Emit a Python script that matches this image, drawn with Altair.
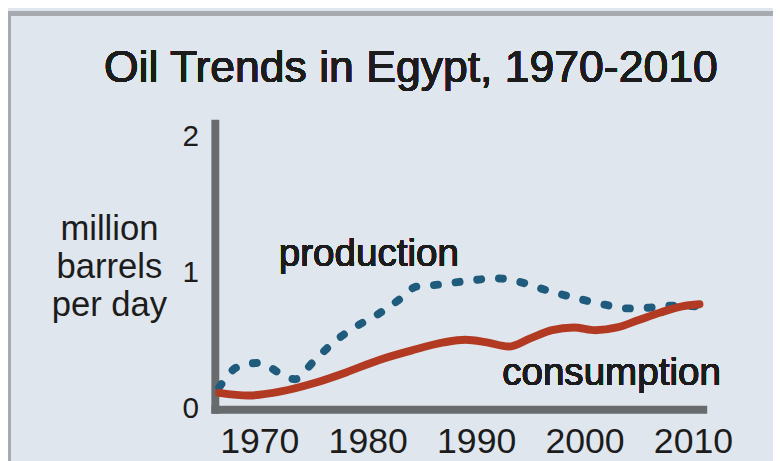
import altair as alt
import pandas as pd

# --- data ---
prod_years = [1966.3, 1968, 1970, 1972, 1973.3, 1975, 1977, 1979, 1981, 1983, 1984.5,
              1986, 1988, 1990, 1992, 1994, 1996, 1998, 2000, 2002, 2004, 2006, 2008, 2010.6]
prod_vals = [0.16, 0.31, 0.34, 0.26, 0.22, 0.35, 0.50, 0.61, 0.70, 0.81, 0.90,
             0.91, 0.93, 0.95, 0.96, 0.935, 0.885, 0.84, 0.80, 0.765, 0.74, 0.745, 0.76, 0.755]

cons_years = [1966.3, 1969, 1972, 1975, 1978, 1981, 1984, 1987, 1989, 1991, 1993,
              1995, 1997, 1999, 2001, 2003, 2005, 2007, 2009, 2010.6]
cons_vals = [0.12, 0.10, 0.13, 0.19, 0.27, 0.36, 0.43, 0.49, 0.51, 0.49, 0.46,
             0.52, 0.58, 0.60, 0.58, 0.60, 0.655, 0.71, 0.755, 0.77]

x_ticks = [1970, 1980, 1990, 2000, 2010]
y_ticks = [0, 1, 2]
y_tick_labels = ["0", "1", "2"]

prod = pd.DataFrame({"year": prod_years, "value": prod_vals})
cons = pd.DataFrame({"year": cons_years, "value": cons_vals})
yt = pd.DataFrame({"value": y_ticks, "label": y_tick_labels})

FONT = "Liberation Sans"
TXT = "#1c1c1c"
AX = "#686b6e"

xs = alt.Scale(domain=[1965.9, 2010.9], nice=False, zero=False)
ys = alt.Scale(domain=[0, 2.1], nice=False)

xaxis = alt.Axis(values=x_ticks, format="d", title=None, grid=False, ticks=False,
                 domainColor=AX, domainWidth=8, domainCap="square",
                 labelFont=FONT, labelFontSize=36, labelColor=TXT, labelPadding=16,
                 labelFlush=False, labelOverlap=False)
yaxis = alt.Axis(values=y_ticks, labels=False, grid=False, ticks=False,
                 domainColor=AX, domainWidth=8, domainCap="square",
                 title=["million", "barrels", "per day"], titleAngle=0,
                 titleAlign="center", titleBaseline="alphabetic",
                 titleFont=FONT, titleFontSize=35, titleFontWeight="normal",
                 titleColor=TXT, titleX=-107, titleY=118, titleLineHeight=38)

base_x = alt.X("year:Q", scale=xs, axis=xaxis)
base_y = alt.Y("value:Q", scale=ys, axis=yaxis)

prod_line = alt.Chart(prod).mark_line(
    color="#1e5b7c", strokeWidth=8, strokeDash=[4, 18], strokeCap="round",
    interpolate="monotone"
).encode(x=base_x, y=base_y)

cons_line = alt.Chart(cons).mark_line(
    color="#b23a22", strokeWidth=8, strokeCap="round", interpolate="monotone"
).encode(x="year:Q", y="value:Q")

ylabels = alt.Chart(yt).mark_text(
    font=FONT, fontSize=30, color=TXT, align="right", baseline="middle"
).encode(x=alt.value(-16), y=alt.Y("value:Q"), text="label:N")

prod_label = alt.Chart(prod).mark_text(
    text="production", font=FONT, fontSize=39, color=TXT, align="left",
    baseline="alphabetic"
).encode(x=alt.datum(1971.8), y=alt.datum(1.054))

cons_label = alt.Chart(prod).mark_text(
    text="consumption", font=FONT, fontSize=39, color=TXT, align="left",
    baseline="alphabetic"
).encode(x=alt.datum(1992.4), y=alt.datum(0.174))

title_text = alt.Chart(prod).mark_text(
    text="Oil Trends in Egypt, 1970-2010", font=FONT, fontSize=45, color=TXT,
    align="left", baseline="alphabetic"
).encode(x=alt.value(-112), y=alt.value(-42))

top_border = alt.Chart(prod).mark_rule(color="#a7abb0", strokeWidth=4).encode(
    x=alt.value(-209), x2=alt.value(570), y=alt.value(-111))
left_border = alt.Chart(prod).mark_rule(color="#a7abb0", strokeWidth=3).encode(
    x=alt.value(-207.5), y=alt.value(-111), y2=alt.value(345))

chart = alt.layer(
    top_border, left_border, prod_line, cons_line, ylabels, prod_label, cons_label,
    title_text
).properties(
    width=493, height=289,
    padding={"left": 209, "top": 114, "right": 71, "bottom": 50},
    autosize=alt.AutoSizeParams(type="none"),
    background="#e0e6ed",
).configure_view(stroke=None)

chart.save("out.html", embed_options={"renderer": "svg", "actions": False})
